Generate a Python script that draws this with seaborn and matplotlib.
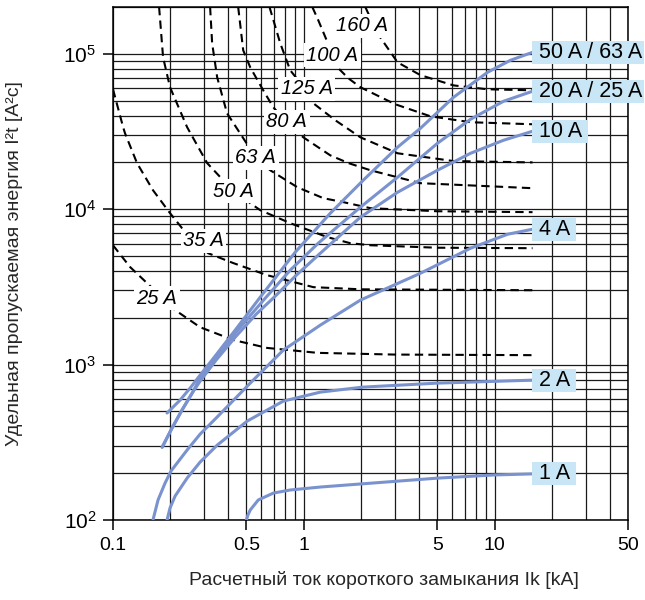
import numpy as np
import pandas as pd
import matplotlib
matplotlib.use("Agg")
import matplotlib.pyplot as plt
from matplotlib.ticker import FixedLocator, FixedFormatter, LogLocator, NullFormatter
import seaborn as sns

# ---- blue curves (let-through energy of the breaker), Ik in kA, I2t in A2s
ik_1a = [0.5, 0.51, 0.524, 0.577, 0.692, 0.849, 1.221, 5.02, 10.0, 15.8]
i2t_1a = [100, 108, 116, 134.5, 149, 156, 163, 186, 195, 198]

ik_2a = [0.192, 0.199, 0.2116, 0.2446, 0.2862, 0.3515, 0.505, 0.7806, 1.221, 2.03, 5.02, 15.8]
i2t_2a = [100, 119.5, 142.6, 186, 236, 303, 433, 582, 665, 716, 760, 794]

ik_4a = [0.162, 0.1722, 0.1875, 0.2016, 0.2446, 0.2862, 0.3515, 0.5237, 0.7806, 1.221, 1.98, 4.09, 7.48, 11.7, 15.8]
i2t_4a = [100, 134.5, 173, 207, 282, 357, 460, 760, 1239, 1795, 2600, 3873, 5610, 6900, 7430]

ik_10a = [0.181, 0.204, 0.230, 0.26, 0.2862, 0.347, 0.442, 0.563, 0.7085, 0.902, 1.221, 1.98, 3.10, 5.02, 7.48, 11.14, 15.8]
i2t_10a = [294, 391, 510, 656, 783, 1069, 1525, 2112, 2757, 3706, 5210, 8882, 12850, 17810, 22900, 27780, 31740]

ik_20a = [0.181, 0.204, 0.230, 0.26, 0.2862, 0.343, 0.437, 0.628, 0.849, 1.191, 1.98, 3.10, 5.02, 7.48, 11.14, 15.8]
i2t_20a = [294, 391, 510, 656, 818, 1101, 1594, 2677, 4052, 6045, 10300, 16060, 26570, 37920, 49500, 57400]

ik_50a = [0.192, 0.2247, 0.2536, 0.2862, 0.343, 0.437, 0.591, 0.902, 1.377, 2.05, 3.10, 4.09, 6.09, 9.18, 12.1, 15.8]
i2t_50a = [488, 591, 706, 856, 1134, 1667, 2716, 5290, 9420, 15370, 25050, 33200, 52500, 76000, 90800, 102200]

blue_names = ["1 A", "2 A", "4 A", "10 A", "20 A / 25 A", "50 A / 63 A"]
blue_x = [ik_1a, ik_2a, ik_4a, ik_10a, ik_20a, ik_50a]
blue_y = [i2t_1a, i2t_2a, i2t_4a, i2t_10a, i2t_20a, i2t_50a]

# ---- dashed curves (fuse characteristics)
ik_f25 = [0.1, 0.113, 0.123, 0.151, 0.212, 0.286, 0.427, 0.643, 1.18, 3.0, 15.8]
i2t_f25 = [5860, 4840, 4240, 3340, 2240, 1740, 1440, 1280, 1190, 1160, 1150]

ik_f35 = [0.1, 0.113, 0.1156, 0.1336, 0.162, 0.199, 0.230, 0.315, 0.427, 0.643, 1.122, 2.0, 15.8]
i2t_f35 = [59100, 33700, 30800, 19800, 13250, 9430, 7550, 5210, 4500, 3760, 3150, 3050, 3010]

ik_f50 = [0.1744, 0.183, 0.199, 0.2446, 0.3115, 0.3645, 0.5237, 0.591, 0.849, 1.328, 1.754, 2.235, 5.0, 15.8]
i2t_f50 = [200000, 94900, 60900, 33700, 19800, 16100, 10930, 9860, 8130, 6610, 6040, 5860, 5650, 5610]

ik_f63 = [0.3228, 0.3308, 0.3515, 0.396, 0.5632, 0.667, 0.9245, 1.266, 1.611, 2.235, 5.0, 15.8]
i2t_f63 = [200000, 116800, 70600, 41400, 21300, 17800, 13850, 11770, 11100, 10150, 9700, 9570]

ik_f80 = [0.4529, 0.4813, 0.5237, 0.6127, 0.692, 0.809, 0.994, 1.377, 1.713, 2.235, 4.09, 15.8]
i2t_f80 = [200000, 105300, 81900, 58200, 45300, 36300, 29000, 22200, 19800, 17800, 14700, 13650]

ik_f125 = [0.661, 0.7525, 0.849, 1.018, 1.122, 1.464, 1.98, 3.10, 6.09, 15.8]
i2t_f125 = [200000, 116800, 78300, 59100, 48000, 37300, 29000, 22900, 20400, 20000]

ik_f100 = [1.108, 1.191, 1.517, 1.713, 1.98, 3.02, 4.61, 7.48, 15.8]
i2t_f100 = [200000, 164200, 80700, 69500, 60900, 47300, 39600, 36270, 35200]

ik_f160 = [2.10, 2.43, 3.10, 4.09, 6.09, 9.18, 15.8]
i2t_f160 = [200000, 135500, 88100, 72800, 62600, 59100, 58200]

fuse_names = ["25 A", "35 A", "50 A", "63 A", "80 A", "125 A", "100 A", "160 A"]
fuse_x = [ik_f25, ik_f35, ik_f50, ik_f63, ik_f80, ik_f125, ik_f100, ik_f160]
fuse_y = [i2t_f25, i2t_f35, i2t_f50, i2t_f63, i2t_f80, i2t_f125, i2t_f100, i2t_f160]
# where each fuse label sits on its curve
fuse_label_ik = [0.170, 0.2985, 0.4266, 0.56, 0.814, 1.037, 1.411, 2.016]
fuse_label_i2t = [2677, 6250, 13060, 21400, 36530, 59600, 97700, 151300]

x_ticks = [0.1, 0.5, 1, 5, 10, 50]
x_tick_labels = ["0.1", "0.5", "1", "5", "10", "50"]
y_ticks = [1e2, 1e3, 1e4, 1e5]
y_tick_labels = [r"$\mathregular{10^{2}}$", r"$\mathregular{10^{3}}$",
                 r"$\mathregular{10^{4}}$", r"$\mathregular{10^{5}}$"]

solid = pd.concat([pd.DataFrame({"ik": x, "i2t": y, "curve": n})
                   for n, x, y in zip(blue_names, blue_x, blue_y)], ignore_index=True)
dashed = pd.concat([pd.DataFrame({"ik": x, "i2t": y, "curve": n})
                    for n, x, y in zip(fuse_names, fuse_x, fuse_y)], ignore_index=True)

sns.set_style("white")
plt.rcParams["font.family"] = ["Liberation Sans", "DejaVu Sans"]

BLUE = "#7a93cf"
BOX = "#c8e6f6"

fig = plt.figure(figsize=(6.45, 6.0), dpi=100)
ax = fig.add_axes([113 / 645, 80 / 600, 515 / 645, 513 / 600])
ax.set_xscale("log")
ax.set_yscale("log")

sns.lineplot(data=dashed, x="ik", y="i2t", units="curve", estimator=None, sort=False,
             color="black", lw=1.5, linestyle=(0, (4.0, 2.5)), ax=ax, legend=False, zorder=3)
sns.lineplot(data=solid, x="ik", y="i2t", units="curve", estimator=None, sort=False,
             color=BLUE, lw=2.2, ax=ax, legend=False, zorder=4)

ax.set_xlim(0.1, 50)
ax.set_ylim(100, 2e5)

ax.xaxis.set_major_locator(FixedLocator(x_ticks))
ax.xaxis.set_major_formatter(FixedFormatter(x_tick_labels))
ax.yaxis.set_major_locator(FixedLocator(y_ticks))
ax.yaxis.set_major_formatter(FixedFormatter(y_tick_labels))
for axis in (ax.xaxis, ax.yaxis):
    axis.set_minor_locator(LogLocator(base=10, subs=np.arange(2, 10)))
    axis.set_minor_formatter(NullFormatter())

ax.grid(True, which="both", color="#1a1a1a", lw=0.9)
ax.set_axisbelow(True)
ax.tick_params(which="major", bottom=True, left=True, direction="out", length=7,
               width=1.1, color="black", labelsize=14, labelcolor="black", pad=5)
ax.tick_params(axis="y", which="major", labelsize=15)
ax.tick_params(which="minor", length=0)
for s in ax.spines.values():
    s.set_color("black")
    s.set_linewidth(1.1)

# fuse labels (white boxes cut the grid)
for n, lx, ly in zip(fuse_names, fuse_label_ik, fuse_label_i2t):
    ax.text(lx, ly, n, ha="center", va="center", style="italic", fontsize=14.5,
            family=["Liberation Sans Narrow", "Liberation Sans"], color="black", zorder=6,
            bbox=dict(boxstyle="square,pad=0.12", fc="white", ec="none"))

# breaker labels at curve ends; the long ones run to the figure edge
for n, x, y in zip(blue_names, blue_x, blue_y):
    txt = " " + n + (" " if len(n) < 6 else "")
    ax.annotate(txt, xy=(x[-1], y[-1]), xytext=(0.5, 0), textcoords="offset points",
                ha="left", va="center", fontsize=15.5, color="black", zorder=7,
                annotation_clip=False,
                bbox=dict(boxstyle="square,pad=0.05", fc=BOX, ec="none"))

ax.set_xlabel("Расчетный ток короткого замыкания Ik [kA]", fontsize=14)
ax.set_ylabel("Удельная пропускаемая энергия I²t [A²c]", fontsize=14)
ax.xaxis.set_label_coords(0.526, -0.1)
ax.yaxis.set_label_coords(-0.175, 0.5)

fig.savefig("out.png", dpi=100)
